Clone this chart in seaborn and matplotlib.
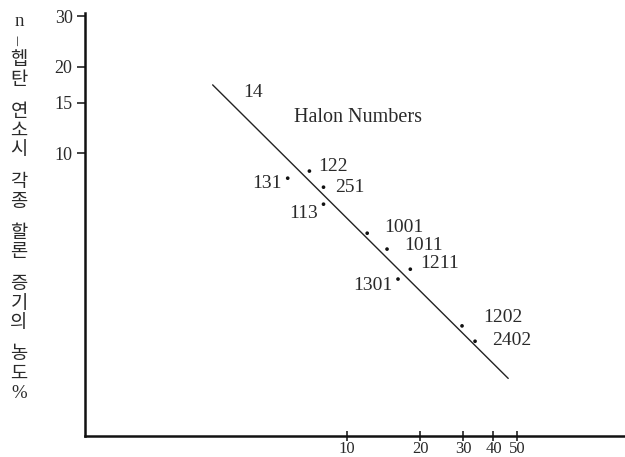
import matplotlib
matplotlib.use("Agg")
import matplotlib.pyplot as plt
import seaborn as sns
import pandas as pd

# Halon compounds: x-axis property vs. vapour concentration (%) needed with n-heptane
halons = ["122", "131", "251", "113", "1001", "1011", "1211", "1301", "1202", "2402"]
x_vals = [7.0, 5.7, 8.0, 8.0, 12.1, 14.6, 18.2, 16.2, 29.7, 33.6]
y_vals = [8.66, 8.18, 7.61, 6.64, 5.26, 4.63, 3.94, 3.64, 2.50, 2.21]
# label offsets in pixels (dx, dy) and horizontal alignment
label_dx = [9, -6, 12, -6, 17, 17, 10, -6, 21, 17]
label_dy = [5, -5, 0, -9, 6, 4, 6, -6, 8, 1]
label_ha = ["left", "right", "left", "right", "left", "left", "left", "right", "left", "left"]

# fitted trend line end points
fit_x = [2.8, 46.0]
fit_y = [17.3, 1.64]

# stand-alone label for Halon 14
h14_x, h14_y = 4.1, 16.3

x_ticks = [10, 20, 30, 40, 50]
y_ticks = [10, 15, 20, 30]

ylabel_words = [["n", "–", "헵", "탄"], ["연", "소", "시"], ["각", "종"],
                ["할", "론"], ["증", "기", "의"], ["농", "도", "%"]]

sns.set_theme(style="white")
plt.rcParams["font.family"] = ["Liberation Serif", "Noto Sans CJK KR", "DejaVu Sans"]

W, H = 625, 457
fig = plt.figure(figsize=(W / 100, H / 100), dpi=100)
ax = fig.add_axes([85 / W, 1 - 436 / H, 1 - 85 / W, (436 - 13) / H])

df = pd.DataFrame({"halon": halons, "x": x_vals, "y": y_vals})
fit = pd.DataFrame({"x": fit_x, "y": fit_y})

sns.lineplot(data=fit, x="x", y="y", ax=ax, color="#222222", linewidth=1.0)
sns.scatterplot(data=df, x="x", y="y", ax=ax, color="#111111", s=7,
                edgecolor="none", zorder=3)

ax.set_xscale("log")
ax.set_yscale("log")
ax.set_xlim(0.836, 139)
ax.set_ylim(1.033, 30.8)

txt_color = "#2a2a2a"
for name, x, y, dx, dy, ha in zip(halons, x_vals, y_vals, label_dx, label_dy, label_ha):
    ax.annotate(name, (x, y), xytext=(dx, dy), textcoords="offset pixels",
                ha=ha, va="center", fontsize=14, color=txt_color)

ax.text(h14_x, h14_y, "14", ha="center", va="center", fontsize=14, color=txt_color)
ax.text(11.1, 13.3, "Halon Numbers", ha="center", va="center", fontsize=14.5,
        color=txt_color)

ax.set_xticks(x_ticks)
ax.set_xticklabels([str(t) for t in x_ticks])
ax.set_yticks(y_ticks)
ax.set_yticklabels([str(t) for t in y_ticks])
ax.minorticks_off()
ax.tick_params(axis="x", direction="inout", length=7, width=1.2, color="#222222",
               labelsize=12, labelcolor=txt_color, pad=0, bottom=True)
ax.tick_params(axis="y", direction="out", length=6, width=1.2, color="#222222",
               labelsize=13, labelcolor=txt_color, pad=3, left=True)
ax.set_xlabel("")
ax.set_ylabel("")

for side in ["top", "right"]:
    ax.spines[side].set_visible(False)
for side in ["left", "bottom"]:
    ax.spines[side].set_color("#111111")
    ax.spines[side].set_linewidth(1.8)

# vertical, character-stacked y label
y_px = 22
step, gap = 19.5, 12
for wi, word in enumerate(ylabel_words):
    if wi > 0:
        y_px += gap
    for ch in word:
        fig.text(19 / W, 1 - y_px / H, ch, ha="center", va="center", fontsize=13.5,
                 color=txt_color, rotation=90 if ch == "–" else 0)
        y_px += step

fig.savefig("out.png", dpi=100)
